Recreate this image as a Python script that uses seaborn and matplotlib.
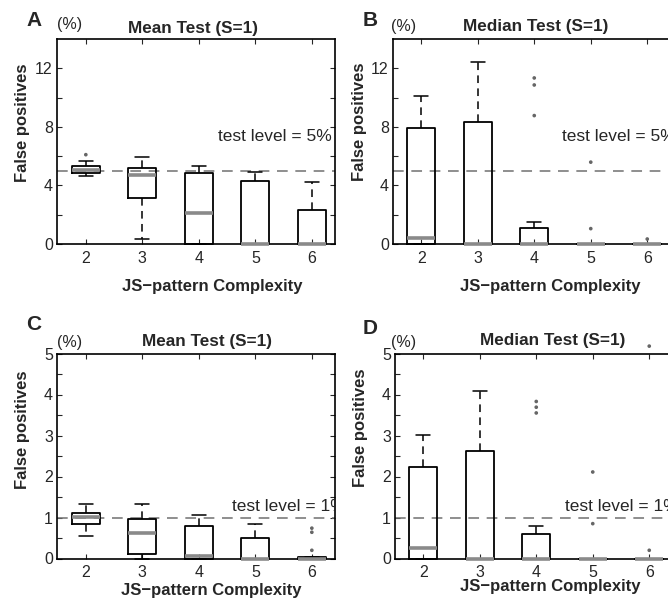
"""False positive rates of the mean and median tests vs JS-pattern complexity (4 panels)."""
import matplotlib
matplotlib.use("Agg")
import matplotlib.pyplot as plt
import seaborn as sns

W, H = 668, 606

complexity = [2, 3, 4, 5, 6]

# panel A: mean test, 5% level
a_whislo = [4.64, 0.34, 0.0, 0.0, 0.0]
a_q1 = [4.83, 3.16, 0.0, 0.0, 0.0]
a_med = [5.05, 4.69, 2.15, 0.0, 0.0]
a_q3 = [5.32, 5.19, 4.84, 4.32, 2.30]
a_whishi = [5.69, 5.96, 5.34, 4.93, 4.23]
a_out_x = [2]
a_out_y = [6.10]

# panel B: median test, 5% level
b_whislo = [0.0, 0.0, 0.0, 0.0, 0.0]
b_q1 = [0.0, 0.0, 0.0, 0.0, 0.0]
b_med = [0.43, 0.0, 0.0, 0.0, 0.0]
b_q3 = [7.95, 8.34, 1.09, 0.0, 0.0]
b_whishi = [10.14, 12.4, 1.50, 0.0, 0.0]
b_out_x = [4, 4, 4, 5, 5, 6]
b_out_y = [11.34, 10.86, 8.77, 5.59, 1.05, 0.34]

# panel C: mean test, 1% level
c_whislo = [0.55, 0.0, 0.0, 0.0, 0.0]
c_q1 = [0.85, 0.12, 0.0, 0.0, 0.0]
c_med = [1.02, 0.62, 0.06, 0.0, 0.0]
c_q3 = [1.11, 0.96, 0.80, 0.49, 0.04]
c_whishi = [1.34, 1.34, 1.07, 0.83, 0.04]
c_out_x = [6, 6, 6]
c_out_y = [0.74, 0.64, 0.20]

# panel D: median test, 1% level
d_whislo = [0.0, 0.0, 0.0, 0.0, 0.0]
d_q1 = [0.0, 0.0, 0.0, 0.0, 0.0]
d_med = [0.25, 0.0, 0.0, 0.0, 0.0]
d_q3 = [2.24, 2.62, 0.60, 0.0, 0.0]
d_whishi = [3.02, 4.09, 0.80, 0.0, 0.0]
d_out_x = [4, 4, 4, 5, 5, 6, 6]
d_out_y = [3.83, 3.69, 3.55, 2.11, 0.85, 0.20, 5.18]

sns.set_style("white")
plt.rcParams["font.family"] = ["Liberation Sans", "DejaVu Sans"]

MED_GRAY = "#8a8a8a"
DOT_GRAY = "#666666"


def fx(px):
    return px / W


def fy(py):
    return 1 - py / H


def make_stats(whislo, q1, med, q3, whishi):
    return [dict(whislo=lo, q1=a, med=m, q3=b, whishi=hi, fliers=[])
            for lo, a, m, b, hi in zip(whislo, q1, med, q3, whishi)]


def draw_panel(fig, rect_px, xlim, ylim, major, minor, stats, out_x, out_y,
               level, level_xy, right_box):
    left, top, right, bottom = rect_px
    ax = fig.add_axes([fx(left), fy(bottom), fx(right - left), (bottom - top) / H])
    ax.bxp(stats, positions=complexity, widths=0.5, showfliers=False,
           boxprops=dict(color="black", lw=1.3),
           whiskerprops=dict(color="black", lw=1.1, linestyle=(0, (5, 3.5))),
           capprops=dict(color="black", lw=1.1),
           medianprops=dict(color=MED_GRAY, lw=2.6, zorder=5, solid_capstyle="butt"),
           manage_ticks=False)
    for ln in ax.lines:
        ln.set_clip_on(False)
    ax.axhline(level, color="#707070", lw=1.1, linestyle=(0, (7, 5)), zorder=1)
    sns.scatterplot(x=out_x, y=out_y, ax=ax, color=DOT_GRAY, s=7,
                    edgecolor="none", clip_on=False, zorder=6)
    ax.set_xlim(*xlim)
    ax.set_ylim(*ylim)
    ax.set_xticks(complexity)
    ax.set_xticklabels([str(c) for c in complexity])
    ax.set_yticks(major)
    ax.set_yticklabels([f"{v:g}" for v in major])
    ax.set_yticks(minor, minor=True)
    ax.set_xlabel("")
    ax.set_ylabel("")
    ax.tick_params(axis="both", which="both", direction="in", length=3.5,
                   width=0.8, labelsize=11.5, top=True, right=right_box,
                   left=True, bottom=True, pad=3)
    ax.tick_params(axis="x", pad=5)
    for name, sp in ax.spines.items():
        sp.set_color("black")
        sp.set_linewidth(1.2)
    ax.spines["right"].set_visible(right_box)
    # the source panels are cropped at the right, so the label is cut there
    ax.text(level_xy[0], level_xy[1], f"test level = {level:g}%", fontsize=12.5,
            ha="left", va="center", clip_on=right_box, zorder=7)
    return ax


fig = plt.figure(figsize=(W / 100, H / 100), dpi=100)

panels = [
    dict(rect=(57, 39, 335, 244), xlim=(1.49, 6.41), ylim=(0, 14),
         major=[0, 4, 8, 12], minor=[2, 6, 10],
         stats=make_stats(a_whislo, a_q1, a_med, a_q3, a_whishi),
         ox=a_out_x, oy=a_out_y, level=5, lxy=(4.34, 7.37), right=True),
    dict(rect=(393, 39, 675.5, 244), xlim=(1.5, 6.5), ylim=(0, 14),
         major=[0, 4, 8, 12], minor=[2, 6, 10],
         stats=make_stats(b_whislo, b_q1, b_med, b_q3, b_whishi),
         ox=b_out_x, oy=b_out_y, level=5, lxy=(4.5, 7.37), right=False),
    dict(rect=(57, 353.5, 335, 558.5), xlim=(1.49, 6.41), ylim=(0, 5),
         major=[0, 1, 2, 3, 4, 5], minor=[0.5, 1.5, 2.5, 3.5, 4.5],
         stats=make_stats(c_whislo, c_q1, c_med, c_q3, c_whishi),
         ox=c_out_x, oy=c_out_y, level=1, lxy=(4.58, 1.26), right=True),
    dict(rect=(395, 353.5, 677.5, 558.5), xlim=(1.5, 6.5), ylim=(0, 5),
         major=[0, 1, 2, 3, 4, 5], minor=[0.5, 1.5, 2.5, 3.5, 4.5],
         stats=make_stats(d_whislo, d_q1, d_med, d_q3, d_whishi),
         ox=d_out_x, oy=d_out_y, level=1, lxy=(4.51, 1.26), right=False),
]

for p in panels:
    draw_panel(fig, p["rect"], p["xlim"], p["ylim"], p["major"], p["minor"],
               p["stats"], p["ox"], p["oy"], p["level"], p["lxy"], p["right"])

# panel decorations: (letter, letter xy, pct xy, title, title xy, ylabel xy, xlabel xy)
labels = [
    ("A", (34, 21), (70, 25), "Mean Test (S=1)", (193, 28), (22, 123), (212, 287)),
    ("B", (370, 20), (404, 26), "Median Test (S=1)", (536, 27), (359, 122), (550, 287)),
    ("C", (34, 324), (70, 343), "Mean Test (S=1)", (207, 342), (22, 430), (211, 590)),
    ("D", (370, 328), (404, 343), "Median Test (S=1)", (553, 340), (361, 428), (550, 587)),
]

for letter, lxy, pxy, title, txy, yxy, xxy in labels:
    fig.text(fx(lxy[0]), fy(lxy[1]), letter, fontsize=15, fontweight="bold",
             ha="center", va="center")
    fig.text(fx(pxy[0]), fy(pxy[1]), "(%)", fontsize=11.5, ha="center", va="center")
    fig.text(fx(txy[0]), fy(txy[1]), title, fontsize=12.3, fontweight="bold",
             ha="center", va="center")
    fig.text(fx(yxy[0]), fy(yxy[1]), "False positives", fontsize=12,
             fontweight="bold", rotation=90, ha="center", va="center")
    fig.text(fx(xxy[0]), fy(xxy[1]), "JS\u2212pattern Complexity", fontsize=12,
             fontweight="bold", ha="center", va="center")

fig.savefig("out.png", dpi=100)
